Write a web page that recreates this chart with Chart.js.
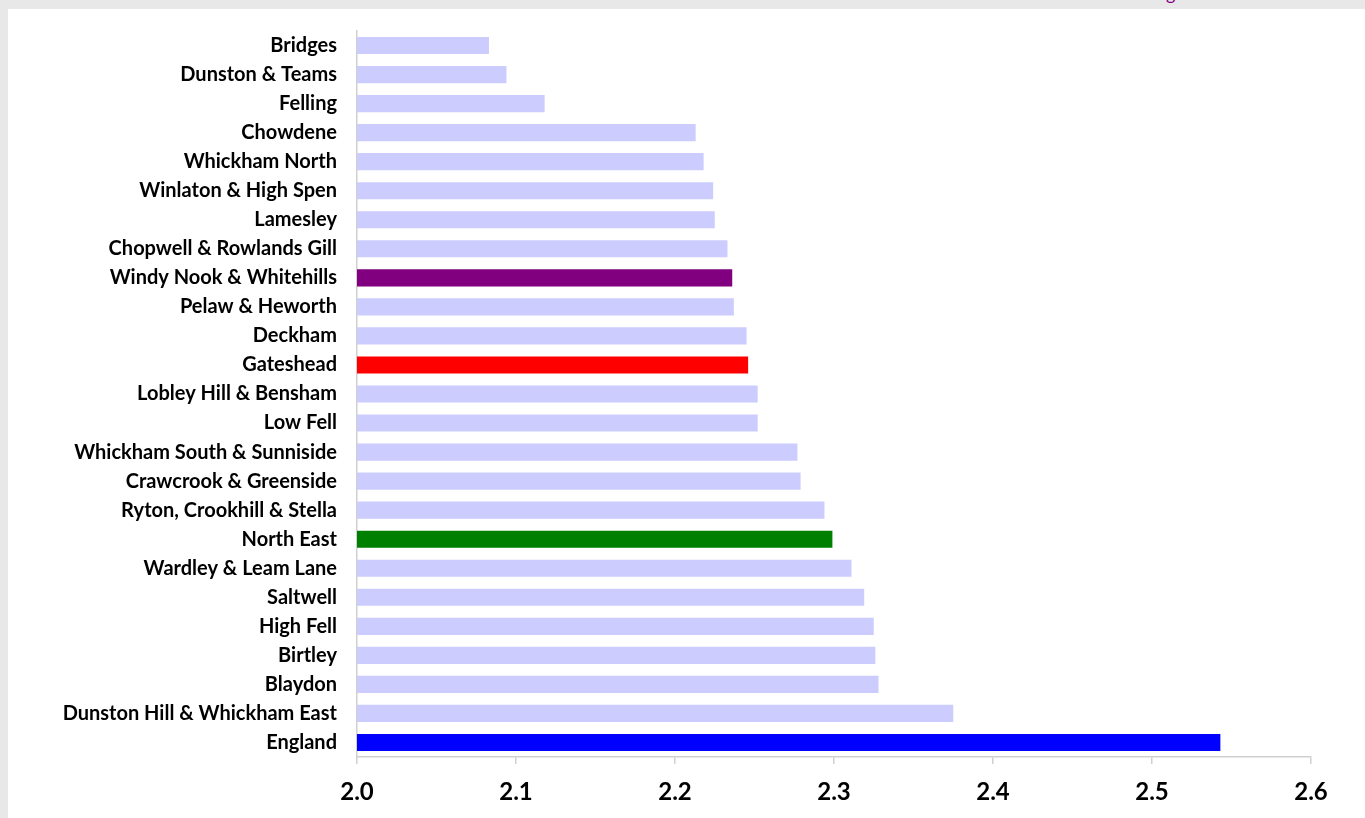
<!DOCTYPE html>
<html>
<head>
<meta charset="utf-8">
<script src="https://cdn.jsdelivr.net/npm/chart.js@4/dist/chart.umd.min.js"></script>
<style>
    html, body { margin: 0; padding: 0; }
    body { width: 1365px; height: 818px; background: #e8e8e8; overflow: hidden; position: relative; font-family: 'Lato', sans-serif; }
    #panel { position: absolute; left: 8px; top: 9px; width: 1357px; height: 809px; background: #ffffff; }
    #link { position: absolute; left: 1166px; top: -18px; color: #800080; font-size: 18px; }
</style>
</head>
<body>
<div id="link">g</div>
<div id="panel"><canvas id="chart" width="1357" height="809"></canvas></div>
<script>
// Categories, top to bottom
const areas = [
    'Bridges', 'Dunston & Teams', 'Felling', 'Chowdene', 'Whickham North',
    'Winlaton & High Spen', 'Lamesley', 'Chopwell & Rowlands Gill', 'Windy Nook & Whitehills',
    'Pelaw & Heworth', 'Deckham', 'Gateshead', 'Lobley Hill & Bensham', 'Low Fell',
    'Whickham South & Sunniside', 'Crawcrook & Greenside', 'Ryton, Crookhill & Stella',
    'North East', 'Wardley & Leam Lane', 'Saltwell', 'High Fell', 'Birtley', 'Blaydon',
    'Dunston Hill & Whickham East', 'England'
];

const values = [
    2.083, 2.094, 2.118, 2.213, 2.218,
    2.224, 2.225, 2.233, 2.236,
    2.237, 2.245, 2.246, 2.252, 2.252,
    2.277, 2.279, 2.294,
    2.299, 2.311, 2.319, 2.325, 2.326, 2.328,
    2.375, 2.543
];

// highlighted bars
const highlight = {
    'Windy Nook & Whitehills': '#800080',
    'Gateshead': '#ff0000',
    'North East': '#008000',
    'England': '#0000ff'
};

const xMin = 2.0;
const xMax = 2.6;
const xStep = 0.1;

const barColors = areas.map(a => highlight[a] || '#ccccff');

const ctx = document.getElementById('chart').getContext('2d');

new Chart(ctx, {
    type: 'bar',
    data: {
        labels: areas,
        datasets: [{
            data: values,
            backgroundColor: barColors,
            borderWidth: 0,
            categoryPercentage: 1,
            barPercentage: 0.59
        }]
    },
    options: {
        indexAxis: 'y',
        responsive: false,
        animation: false,
        layout: { padding: { top: 11, right: 54, left: 0, bottom: 0 } },
        plugins: {
            legend: { display: false },
            tooltip: { enabled: false }
        },
        scales: {
            x: {
                min: xMin,
                max: xMax,
                grid: { drawOnChartArea: false, drawTicks: true, tickLength: 7, color: '#d0d0d0', lineWidth: 1.5 },
                border: { color: '#d0d0d0', width: 1.5 },
                ticks: {
                    stepSize: xStep,
                    padding: 14,
                    color: '#000000',
                    font: { family: 'Lato', size: 24, weight: 'bold' },
                    callback: v => Number(v).toFixed(1)
                },
                afterFit: scale => { scale.height = 61; }
            },
            y: {
                grid: { display: false },
                border: { color: '#d0d0d0', width: 1.5 },
                ticks: {
                    padding: 12,
                    color: '#000000',
                    autoSkip: false,
                    font: { family: 'Lato', size: 20, weight: 'bold', lineHeight: 1 }
                },
                afterFit: scale => { scale.width = 349; }
            }
        }
    }
});
</script>
</body>
</html>
